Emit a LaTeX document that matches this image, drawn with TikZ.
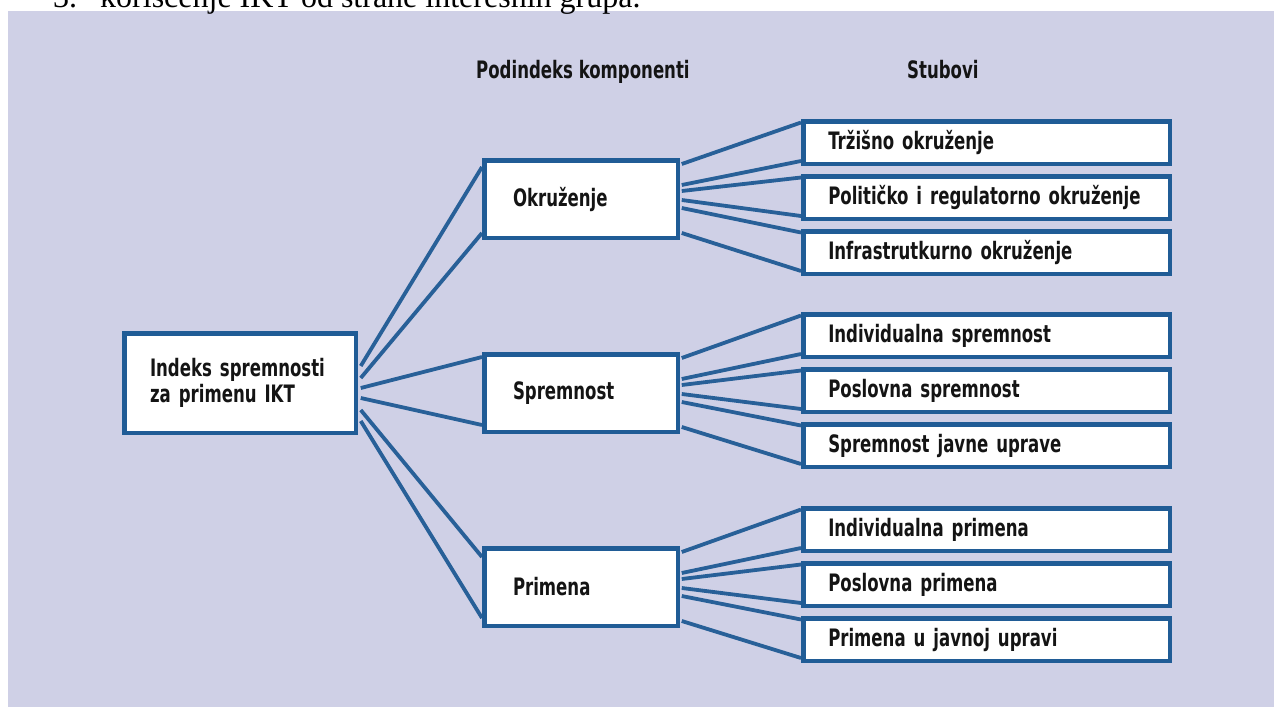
\documentclass[tikz,border=0pt]{standalone}
\usepackage{fontspec}
\newfontfamily\boxfont{DejaVu Sans}[FakeStretch=0.69]
\newfontfamily\topfont{Liberation Serif}
\definecolor{panel}{RGB}{207,208,230}
\definecolor{bdr}{RGB}{32,92,150}
\definecolor{lin}{RGB}{40,96,152}
\definecolor{ink}{RGB}{20,20,20}
\pgfdeclarelayer{bg}
\pgfdeclarelayer{lines}
\pgfsetlayers{bg,lines,main}
\newcommand{\bxfnt}{\boxfont\bfseries\fontsize{24pt}{26pt}\selectfont}
\tikzset{
  box/.style={draw=bdr, line width=4.5pt, fill=white, inner ysep=0pt, outer sep=0pt,
    anchor=north west, align=left, text=ink, font=\bxfnt},
  rbox/.style={box, inner xsep=25pt, text width=316.5pt, minimum width=366.5pt, minimum height=42.5pt},
  mbox/.style={box, inner xsep=28.75pt, text width=136pt, minimum width=193.5pt, minimum height=77.5pt},
  head/.style={inner sep=0pt, anchor=base west, text=ink, font=\bxfnt},
  toptext/.style={inner sep=0pt, anchor=base west, font=\topfont\fontsize{32pt}{36pt}\selectfont},
  conn/.style={draw=lin, line width=3.8pt},
}
\newcommand{\rline}[1]{\makebox[316.5pt][l]{#1}}
\begin{document}
\begin{tikzpicture}[x=1pt,y=-1pt]
\useasboundingbox (0,0) rectangle (1274,707);
\clip (0,0) rectangle (1274,707);
% top (cut) text line
\node[toptext] (num) at (53,7.5) {3.};
\node[toptext] (toptxt) at (100,7.5) {korišćenje IKT od strane interesnih grupa.};
\begin{pgfonlayer}{bg}
  \fill[panel] (8,11) rectangle (1274,707);
\end{pgfonlayer}
% headers
\node[head] (h1) at (476,78) {Podindeks komponenti};
\node[head] (h2) at (907,78) {Stubovi};
% root
\node[box, inner xsep=25.75pt, text width=180pt, minimum width=231.5pt, minimum height=99.5pt] (root) at (124.25,333.25) {Indeks spremnosti\\za primenu IKT};
% middle
\node[mbox] (okr) at (484.25,160.25) {Okruženje};
\node[mbox] (spr) at (484.25,354.25) {Spremnost};
\node[mbox] (pri) at (484.25,548.25) {Primena};
% right column
\node[rbox] (a1) at (803.25,121.25) {\rline{Tržišno okruženje}};
\node[rbox] (a2) at (803.25,176.25) {\rline{Političko i regulatorno okruženje}};
\node[rbox] (a3) at (803.25,231.25) {\rline{Infrastrutkurno okruženje}};
\node[rbox] (b1) at (803.25,314.25) {\rline{Individualna spremnost}};
\node[rbox] (b2) at (803.25,369.25) {\rline{Poslovna spremnost}};
\node[rbox] (b3) at (803.25,424.25) {\rline{Spremnost javne uprave}};
\node[rbox] (c1) at (803.25,508.25) {\rline{Individualna primena}};
\node[rbox] (c2) at (803.25,563.25) {\rline{Poslovna primena}};
\node[rbox] (c3) at (803.25,618.25) {\rline{Primena u javnoj upravi}};
\begin{pgfonlayer}{lines}
  % root to middle
  \draw[conn] ([xshift=5pt,yshift=17pt]root.east) -- ([xshift=-2.25pt,yshift=32pt]okr.west);
  \draw[conn] ([xshift=5pt,yshift=5pt]root.east) -- ([xshift=-2.25pt,yshift=-34pt]okr.west);
  \draw[conn] ([xshift=5pt,yshift=-5pt]root.east) -- ([xshift=-2.25pt,yshift=36pt]spr.west);
  \draw[conn] ([xshift=5pt,yshift=-15pt]root.east) -- ([xshift=-2.25pt,yshift=-32pt]spr.west);
  \draw[conn] ([xshift=5pt,yshift=-27pt]root.east) -- ([xshift=-2.25pt,yshift=30pt]pri.west);
  \draw[conn] ([xshift=5pt,yshift=-38pt]root.east) -- ([xshift=-2.25pt,yshift=-31pt]pri.west);
  % middle to right
  \foreach \m/\p/\q/\r in {okr/a1/a2/a3, spr/b1/b2/b3, pri/c1/c2/c3}{
    \draw[conn] ([xshift=4pt,yshift=35pt]\m.east) -- ([xshift=-2.25pt,yshift=20pt]\p.west);
    \draw[conn] ([xshift=4pt,yshift=14pt]\m.east) -- ([xshift=-2.25pt,yshift=-18.5pt]\p.west);
    \draw[conn] ([xshift=4pt,yshift=8pt]\m.east) -- ([xshift=-2.25pt,yshift=20pt]\q.west);
    \draw[conn] ([xshift=4pt,yshift=-1pt]\m.east) -- ([xshift=-2.25pt,yshift=-18.5pt]\q.west);
    \draw[conn] ([xshift=4pt,yshift=-9pt]\m.east) -- ([xshift=-2.25pt,yshift=20pt]\r.west);
    \draw[conn] ([xshift=4pt,yshift=-34pt]\m.east) -- ([xshift=-2.25pt,yshift=-18.5pt]\r.west);
  }
\end{pgfonlayer}
\end{tikzpicture}
\end{document}
